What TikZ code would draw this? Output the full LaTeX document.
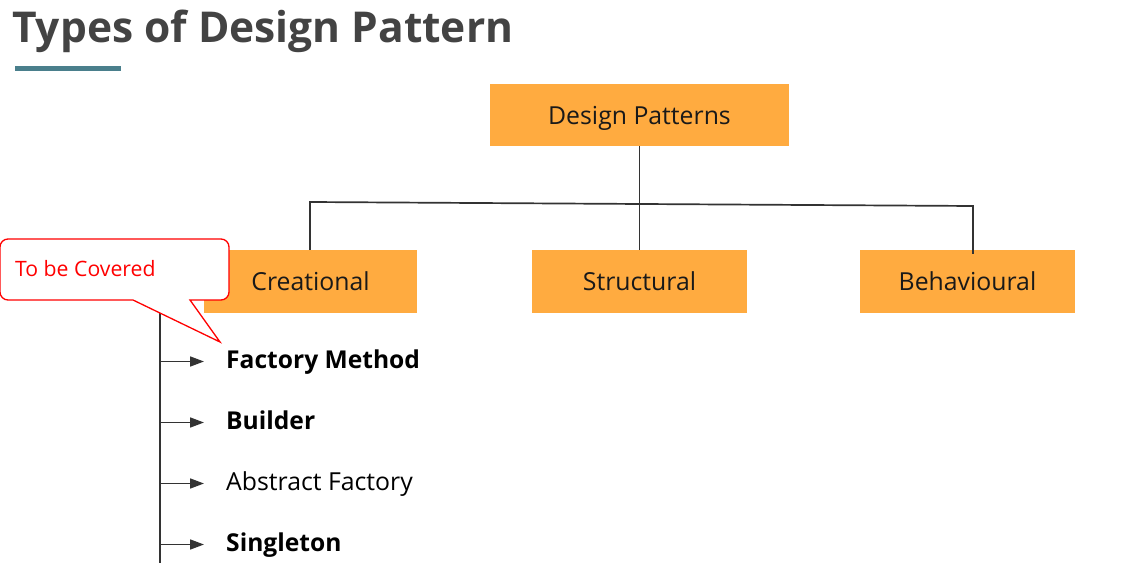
\documentclass[tikz,border=0pt]{standalone}
\usepackage{fontspec}
\setmainfont{Open Sans}
\usetikzlibrary{arrows.meta}
\definecolor{orangebox}{HTML}{FFAB40}
\definecolor{titlegray}{HTML}{434343}
\definecolor{teal}{HTML}{4A7F8C}
\definecolor{linegray}{HTML}{333333}
\definecolor{calred}{HTML}{FF0000}
\tikzset{
  box/.style={fill=orangebox, draw=none, inner sep=0pt, text height=18.5pt, text depth=0pt,
    font=\fontsize{24.8}{28}\selectfont, text=black!90},
  conn/.style={draw=linegray, line width=1.7pt},
  arr/.style={draw=linegray, line width=1.7pt, -{Triangle[length=14pt,width=10pt]}},
  item/.style={anchor=base west, inner sep=0pt, font=\fontsize{24.8}{28}\selectfont, text=black},
  itembold/.style={item, font=\fontsize{24.6}{28}\selectfont\bfseries},
}
\begin{document}
\begin{tikzpicture}[x=1pt,y=-1pt]
\useasboundingbox (0,0) rectangle (1136,588);
% title
\node[anchor=base west, inner sep=0pt, text=titlegray, font=\fontsize{42.5}{48}\selectfont\bfseries] (title) at (12,43) {Types of Design Pattern};
\fill[teal] (15,66) rectangle (121,71);
% boxes
\node[box, minimum width=299pt, minimum height=62pt] (dp) at (639.5,115) {Design Patterns};
\node[box, minimum width=213pt, minimum height=63pt] (cre) at (310.5,281.5) {Creational};
\node[box, minimum width=215pt, minimum height=63pt] (str) at (639.5,281.5) {Structural};
\node[box, minimum width=215pt, minimum height=63pt] (beh) at (967.5,281.5) {Behavioural};
% tree connectors
\coordinate (hl) at (310,202);
\coordinate (hr) at (973,206);
\draw[conn] (dp.south) -- (str.north);
\draw[conn] (hl |- cre.north) -- (hl) -- (hr) -- ++(0,48) coordinate (hrend);
% spine and items
\coordinate (sptop) at (160,300);
\coordinate (spbot) at (160,563);
\draw[conn] (sptop) -- (spbot);
\node[itembold] (i1) at (226,368) {Factory Method};
\node[itembold] (i2) at (226,429) {Builder};
\node[item] (i3) at (226,490) {Abstract Factory};
\node[itembold] (i4) at (226,551) {Singleton};
\foreach \i in {i1,i2,i3,i4}{
  \draw[arr] ([xshift=-66pt,yshift=6.5pt]\i.base west) -- ([xshift=-22pt,yshift=6.5pt]\i.base west);
}
% callout
\draw[calred, fill=white, line width=1.3pt, line join=miter]
  (8,239) -- (221,239) arc[start angle=270,end angle=360,radius=8] -- (229,292)
  arc[start angle=0,end angle=90,radius=8] -- (190,300) -- (220,342) -- (133,300)
  -- (8,300) arc[start angle=90,end angle=180,radius=8] -- (0,247)
  arc[start angle=180,end angle=270,radius=8] -- cycle;
\node[anchor=base west, inner sep=0pt, text=calred, font=\fontsize{21.2}{24}\selectfont] (cal) at (15,277) {To be Covered};
\end{tikzpicture}
\end{document}
